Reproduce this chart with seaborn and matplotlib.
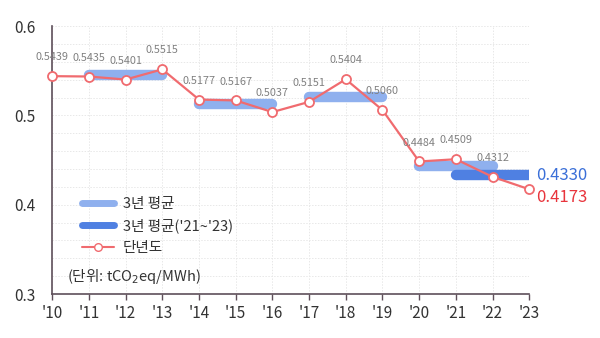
import matplotlib
matplotlib.use("Agg")
import matplotlib.pyplot as plt
import seaborn as sns
import pandas as pd
import numpy as np
from matplotlib.lines import Line2D
from matplotlib.ticker import MultipleLocator

sns.set_theme(style="white")
plt.rcParams['font.family'] = ['Noto Sans CJK KR', 'DejaVu Sans']

years = list(range(2010, 2024))
tick_labels = ["'10", "'11", "'12", "'13", "'14", "'15", "'16", "'17", "'18", "'19", "'20", "'21", "'22", "'23"]
single = [0.5439, 0.5435, 0.5401, 0.5515, 0.5177, 0.5167, 0.5037, 0.5151, 0.5404, 0.5060, 0.4484, 0.4509, 0.4312, 0.4173]
avg_periods = [(2011, 2013), (2014, 2016), (2017, 2019), (2020, 2022)]
avg_values = [0.5450, 0.5127, 0.5205, 0.4435]
recent_period = (2021, 2023)
recent_value = 0.4330

light_blue = "#8fb0ee"
dark_blue = "#4f80e2"
red = "#f06b6f"

fig = plt.figure(figsize=(6, 3.38), dpi=100)
ax = fig.add_axes([0.087, 0.130, 0.795, 0.793])

for (s, e), v in zip(avg_periods, avg_values):
    d = pd.DataFrame({"x": [s, e], "y": [v, v]})
    sns.lineplot(data=d, x="x", y="y", ax=ax, color=light_blue, linewidth=7.5,
                 solid_capstyle="round", zorder=2)
d = pd.DataFrame({"x": list(recent_period), "y": [recent_value, recent_value]})
sns.lineplot(data=d, x="x", y="y", ax=ax, color=dark_blue, linewidth=7.5,
             solid_capstyle="round", zorder=2)

df = pd.DataFrame({"year": years, "value": single})
sns.lineplot(data=df, x="year", y="value", ax=ax, color=red, linewidth=1.6,
             marker="o", markersize=6.5, markerfacecolor="white", markeredgecolor=red,
             markeredgewidth=1.3, zorder=3, clip_on=False)

for x, v in zip(years[:-1], single[:-1]):
    ax.annotate(f"{v:.4f}", (x, v), xytext=(0, 10), textcoords="offset points",
                ha="center", va="bottom", fontsize=7.8, color="#808080")

ax.annotate(f"{recent_value:.4f}", (2023, recent_value), xytext=(5, 0), textcoords="offset points",
            ha="left", va="center", fontsize=12, color="#3a6fd8", annotation_clip=False)
ax.annotate(f"{single[-1]:.4f}", (2023, single[-1]), xytext=(5, -6), textcoords="offset points",
            ha="left", va="center", fontsize=12, color="#e8343c", annotation_clip=False)

ax.set_xlim(2010, 2023)
ax.set_ylim(0.3, 0.6)
ax.set_xticks(years)
ax.set_xticklabels(tick_labels)
ax.set_yticks([0.3, 0.4, 0.5, 0.6])
ax.set_yticklabels(["0.3", "0.4", "0.5", "0.6"])
ax.yaxis.set_minor_locator(MultipleLocator(0.02))
ax.grid(True, which="both", axis="y", color="#e8e8e8", linestyle=(0, (1.5, 1.5)), linewidth=0.7)
ax.grid(True, which="major", axis="x", color="#e8e8e8", linestyle=(0, (1.5, 1.5)), linewidth=0.7)
ax.set_axisbelow(True)
ax.set_xlabel("")
ax.set_ylabel("")
for sp in ["top", "right"]:
    ax.spines[sp].set_visible(False)
for sp in ["left", "bottom"]:
    ax.spines[sp].set_color("#5e4f5a")
    ax.spines[sp].set_linewidth(1.2)
ax.tick_params(axis="x", which="major", length=4, width=1, color="#5e4f5a", labelsize=11,
               labelcolor="#333333", pad=4, direction="out", bottom=True)
ax.tick_params(axis="y", which="both", length=0, labelsize=11, labelcolor="#333333", pad=12)

handles = [
    Line2D([0], [0], color=light_blue, linewidth=5, solid_capstyle="round"),
    Line2D([0], [0], color=dark_blue, linewidth=5, solid_capstyle="round"),
    Line2D([0], [0], color=red, linewidth=1.5, marker="o", markersize=5.5,
           markerfacecolor="white", markeredgecolor=red),
]
labels = ["3년 평균", "3년 평균('21~'23)", "단년도"]
ax.legend(handles, labels, loc="lower left", bbox_to_anchor=(0.035, 0.095), frameon=False,
          fontsize=10.5, handlelength=2.2, labelspacing=0.55, handletextpad=0.6, labelcolor="#333333")
ax.text(0.03, 0.065, "(단위: tCO$_2$eq/MWh)", transform=ax.transAxes, fontsize=10.5, color="#333333",
        ha="left", va="center")

fig.savefig("out.png", dpi=100)
